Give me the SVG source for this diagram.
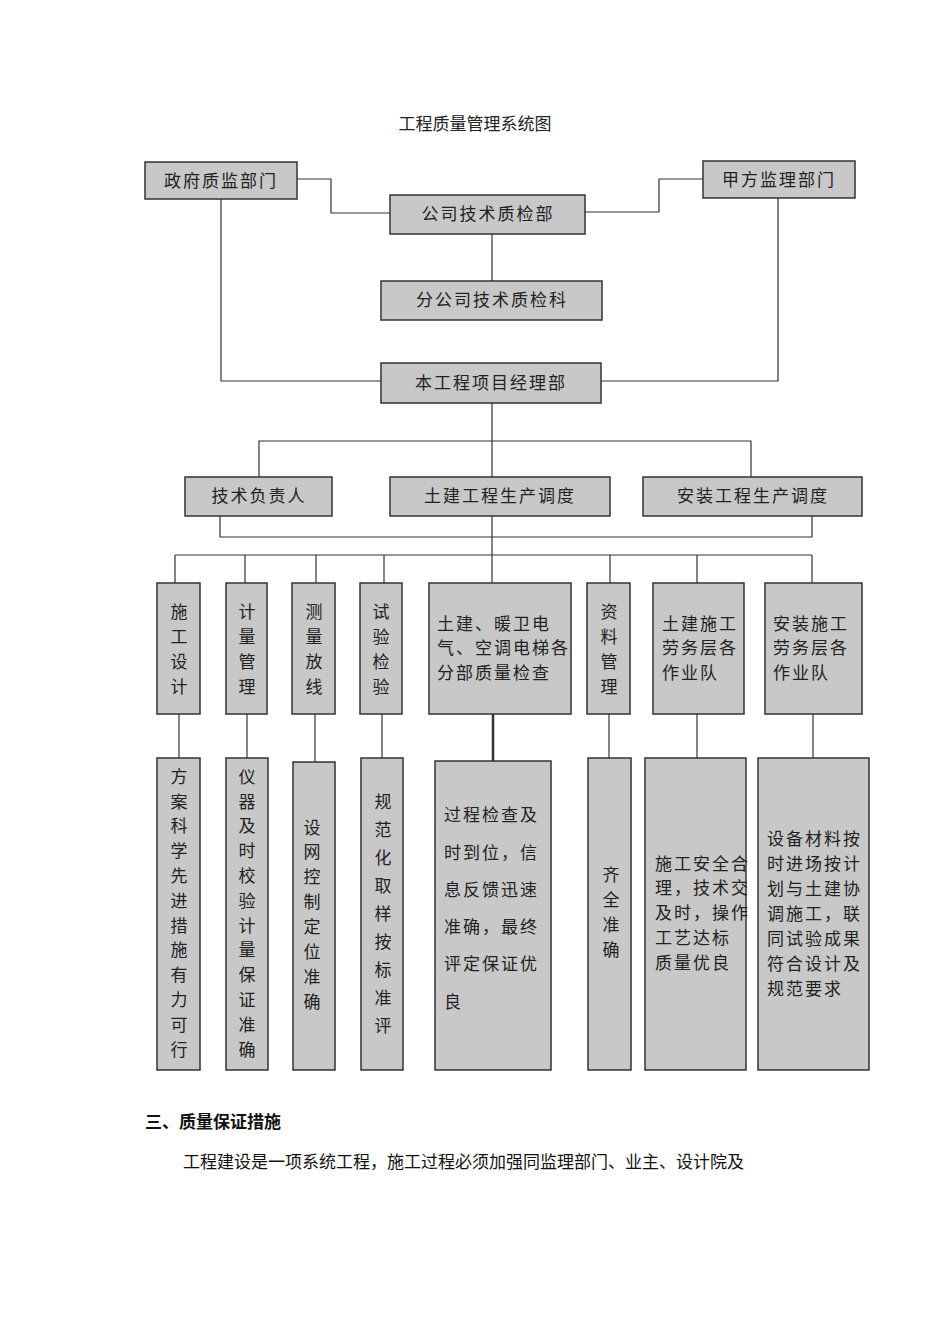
<svg xmlns="http://www.w3.org/2000/svg" width="950" height="1344" viewBox="0 0 950 1344">
<style>
.b{fill:#c8c8c8;stroke:#333;stroke-width:1.5}
.t{font-family:"Noto Sans CJK SC","Liberation Serif",serif;font-size:17px;fill:#222;letter-spacing:2px}
.c{text-anchor:middle}
.v{font-family:"Noto Sans CJK SC",serif;font-size:17px;fill:#222;text-anchor:middle}
.l{fill:none;stroke:#333;stroke-width:1.2}
</style>
<rect width="950" height="1344" fill="#fff"/>
<text x="475" y="130" class="t c" style="letter-spacing:0">工程质量管理系统图</text>
<g id="connectors" class="l">
<polyline points="297,179 331,179 331,213 390,213"/>
<polyline points="703,179 659,179 659,212 585,212"/>
<line x1="492" y1="234" x2="492" y2="281"/>
<polyline points="221,199 221,381 381,381"/>
<polyline points="778,198 778,381 601,381"/>
<line x1="492" y1="403" x2="492" y2="477"/>
<polyline points="259,477 259,441 751,441 751,477"/>
<polyline points="220,516 220,537 812,537 812,516"/>
<line x1="492" y1="516" x2="492" y2="583"/>
<line x1="175" y1="555" x2="812" y2="555"/>
<line x1="175" y1="555" x2="175" y2="583"/>
<line x1="245" y1="555" x2="245" y2="583"/>
<line x1="316" y1="555" x2="316" y2="583"/>
<line x1="384" y1="555" x2="384" y2="583"/>
<line x1="610" y1="555" x2="610" y2="583"/>
<line x1="697" y1="555" x2="697" y2="583"/>
<line x1="812" y1="555" x2="812" y2="583"/>
<line x1="179" y1="714" x2="179" y2="758"/>
<line x1="247" y1="714" x2="247" y2="758"/>
<line x1="315" y1="714" x2="315" y2="762"/>
<line x1="382" y1="714" x2="382" y2="758"/>
<line x1="493" y1="714" x2="493" y2="761" stroke-width="2.5"/>
<line x1="609" y1="714" x2="609" y2="758"/>
<line x1="697" y1="714" x2="697" y2="758"/>
<line x1="813" y1="714" x2="813" y2="758"/>
</g>
<g id="n1"><rect class="b" x="145" y="162" width="152" height="37"/><text class="t c" x="221" y="187">政府质监部门</text></g>
<g id="n2"><rect class="b" x="703" y="161" width="152" height="37"/><text class="t c" x="779" y="186">甲方监理部门</text></g>
<g id="n3"><rect class="b" x="390" y="195" width="195" height="39"/><text class="t c" x="488" y="220">公司技术质检部</text></g>
<g id="n4"><rect class="b" x="381" y="281" width="221" height="39"/><text class="t c" x="492" y="306">分公司技术质检科</text></g>
<g id="n5"><rect class="b" x="381" y="363" width="220" height="40"/><text class="t c" x="491" y="389">本工程项目经理部</text></g>
<g id="n6"><rect class="b" x="185" y="477" width="147" height="39"/><text class="t c" x="259" y="502">技术负责人</text></g>
<g id="n7"><rect class="b" x="390" y="477" width="220" height="39"/><text class="t c" x="500" y="502">土建工程生产调度</text></g>
<g id="n8"><rect class="b" x="643" y="477" width="219" height="39"/><text class="t c" x="753" y="502">安装工程生产调度</text></g>
<g id="r3a"><rect class="b" x="157" y="583" width="43" height="131"/><text class="v" x="179"><tspan x="179" y="618">施</tspan><tspan x="179" y="643">工</tspan><tspan x="179" y="668">设</tspan><tspan x="179" y="693">计</tspan></text></g>
<g id="r3b"><rect class="b" x="226" y="583" width="41" height="131" stroke-width="2.5"/><text class="v" x="247"><tspan x="247" y="618">计</tspan><tspan x="247" y="643">量</tspan><tspan x="247" y="668">管</tspan><tspan x="247" y="693">理</tspan></text></g>
<g id="r3c"><rect class="b" x="292" y="583" width="43" height="131"/><text class="v" x="314"><tspan x="314" y="618">测</tspan><tspan x="314" y="643">量</tspan><tspan x="314" y="668">放</tspan><tspan x="314" y="693">线</tspan></text></g>
<g id="r3d"><rect class="b" x="360" y="583" width="42" height="131"/><text class="v" x="381"><tspan x="381" y="618">试</tspan><tspan x="381" y="643">验</tspan><tspan x="381" y="668">检</tspan><tspan x="381" y="693">验</tspan></text></g>
<g id="r3e"><rect class="b" x="429" y="583" width="142" height="131"/><text class="t" x="437"><tspan x="437" y="630">土建、暖卫电</tspan><tspan x="437" y="654">气、空调电梯各</tspan><tspan x="437" y="679">分部质量检查</tspan></text></g>
<g id="r3f"><rect class="b" x="587" y="583" width="43" height="131"/><text class="v" x="609"><tspan x="609" y="618">资</tspan><tspan x="609" y="643">料</tspan><tspan x="609" y="668">管</tspan><tspan x="609" y="693">理</tspan></text></g>
<g id="r3g"><rect class="b" x="653" y="583" width="91" height="131"/><text class="t" x="662"><tspan x="662" y="630">土建施工</tspan><tspan x="662" y="654">劳务层各</tspan><tspan x="662" y="679">作业队</tspan></text></g>
<g id="r3h"><rect class="b" x="765" y="583" width="97" height="131"/><text class="t" x="773"><tspan x="773" y="630">安装施工</tspan><tspan x="773" y="654">劳务层各</tspan><tspan x="773" y="679">作业队</tspan></text></g>
<g id="r4a"><rect class="b" x="157" y="758" width="43" height="312"/><text class="v"><tspan x="179" y="783">方</tspan><tspan x="179" y="808">案</tspan><tspan x="179" y="832">科</tspan><tspan x="179" y="857">学</tspan><tspan x="179" y="882">先</tspan><tspan x="179" y="907">进</tspan><tspan x="179" y="932">措</tspan><tspan x="179" y="956">施</tspan><tspan x="179" y="981">有</tspan><tspan x="179" y="1006">力</tspan><tspan x="179" y="1031">可</tspan><tspan x="179" y="1056">行</tspan></text></g>
<g id="r4b"><rect class="b" x="226" y="758" width="42" height="312"/><text class="v"><tspan x="247" y="783">仪</tspan><tspan x="247" y="808">器</tspan><tspan x="247" y="832">及</tspan><tspan x="247" y="857">时</tspan><tspan x="247" y="882">校</tspan><tspan x="247" y="907">验</tspan><tspan x="247" y="932">计</tspan><tspan x="247" y="956">量</tspan><tspan x="247" y="981">保</tspan><tspan x="247" y="1006">证</tspan><tspan x="247" y="1031">准</tspan><tspan x="247" y="1056">确</tspan></text></g>
<g id="r4c"><rect class="b" x="293" y="762" width="42" height="308"/><text class="v"><tspan x="312" y="834">设</tspan><tspan x="312" y="858">网</tspan><tspan x="312" y="883">控</tspan><tspan x="312" y="908">制</tspan><tspan x="312" y="933">定</tspan><tspan x="312" y="958">位</tspan><tspan x="312" y="983">准</tspan><tspan x="312" y="1008">确</tspan></text></g>
<g id="r4d"><rect class="b" x="361" y="758" width="42" height="312"/><text class="v"><tspan x="383" y="808">规</tspan><tspan x="383" y="836">范</tspan><tspan x="383" y="864">化</tspan><tspan x="383" y="892">取</tspan><tspan x="383" y="920">样</tspan><tspan x="383" y="948">按</tspan><tspan x="383" y="976">标</tspan><tspan x="383" y="1004">准</tspan><tspan x="383" y="1032">评</tspan><tspan x="383" y="1032" dy="0"></tspan></text><text class="v" x="383" y="1032" opacity="0"></text></g>
<g id="r4e"><rect class="b" x="435" y="761" width="116" height="309" stroke-width="2"/><text class="t"><tspan x="444" y="821">过程检查及</tspan><tspan x="444" y="859">时到位，信</tspan><tspan x="444" y="896">息反馈迅速</tspan><tspan x="444" y="933">准确，最终</tspan><tspan x="444" y="970">评定保证优</tspan><tspan x="444" y="1008">良</tspan></text></g>
<g id="r4f"><rect class="b" x="588" y="758" width="43" height="312"/><text class="v"><tspan x="611" y="881">齐</tspan><tspan x="611" y="906">全</tspan><tspan x="611" y="931">准</tspan><tspan x="611" y="956">确</tspan></text></g>
<g id="r4g"><rect class="b" x="645" y="758" width="101" height="312"/><text class="t"><tspan x="655" y="870">施工安全合</tspan><tspan x="655" y="894">理，技术交</tspan><tspan x="655" y="919">及时，操作</tspan><tspan x="655" y="944">工艺达标</tspan><tspan x="655" y="969">质量优良</tspan></text></g>
<g id="r4h"><rect class="b" x="758" y="758" width="111" height="312"/><text class="t"><tspan x="767" y="845">设备材料按</tspan><tspan x="767" y="870">时进场按计</tspan><tspan x="767" y="895">划与土建协</tspan><tspan x="767" y="920">调施工，联</tspan><tspan x="767" y="945">同试验成果</tspan><tspan x="767" y="970">符合设计及</tspan><tspan x="767" y="995">规范要求</tspan></text></g>
<text x="145" y="1128" style="font-family:'Noto Sans CJK SC',sans-serif;font-size:17px;font-weight:bold;fill:#111">三、质量保证措施</text>
<text x="183" y="1168" style="font-family:'Noto Sans CJK SC',serif;font-size:17px;fill:#111">工程建设是一项系统工程，施工过程必须加强同监理部门、业主、设计院及</text>
</svg>
